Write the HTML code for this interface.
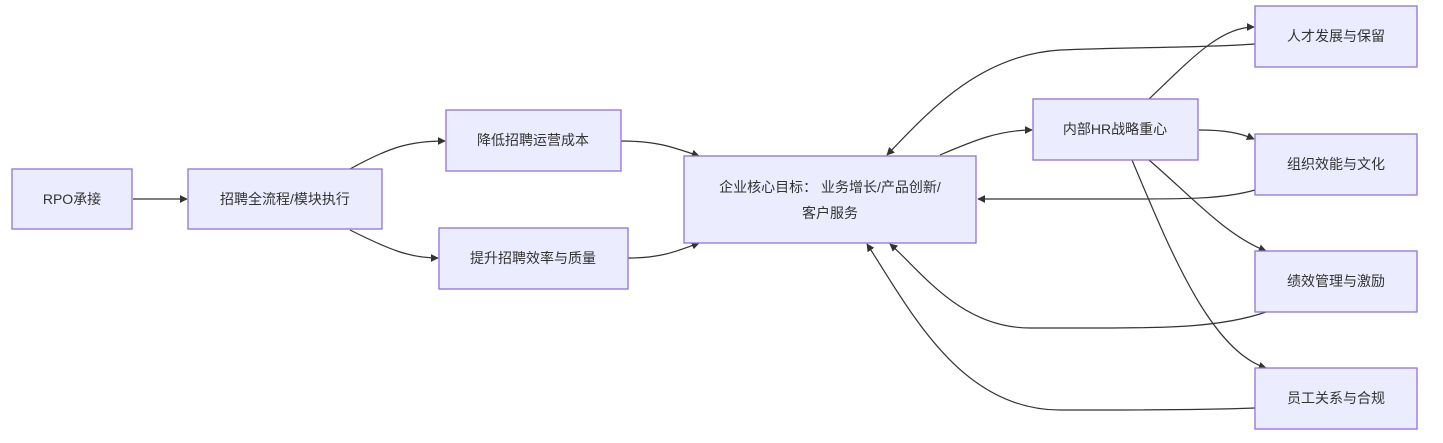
<!DOCTYPE html>
<html><head><meta charset="utf-8"><style>
html,body{margin:0;padding:0;background:#fff;}
svg{display:block;}
text{font-family:"Liberation Sans","Noto Sans CJK SC",sans-serif;font-size:14px;fill:#333;text-anchor:middle;dominant-baseline:central;}
rect{fill:#ECECFF;stroke:#9370DB;stroke-width:1.3;}
path.e{fill:none;stroke:#333;stroke-width:1.2;}
</style></head><body>
<svg width="1443" height="443" viewBox="0 0 1443 443" xmlns="http://www.w3.org/2000/svg">
<defs><marker id="a" viewBox="0 0 10 10" refX="9" refY="5" markerWidth="8" markerHeight="8" markerUnits="userSpaceOnUse" orient="auto"><path d="M0,0L10,5L0,10z" fill="#333"/></marker></defs>
<g>
<path class="e" marker-end="url(#a)" d="M133,199L187,199"/>
<path class="e" marker-end="url(#a)" d="M350,169C390,147 410,141 445,141"/>
<path class="e" marker-end="url(#a)" d="M350,230C390,250 410,258 438,258"/>
<path class="e" marker-end="url(#a)" d="M621,141C655,141 670,146 699,156"/>
<path class="e" marker-end="url(#a)" d="M628,258C660,258 675,252 699,243"/>
<path class="e" marker-end="url(#a)" d="M940,155C975,140 1000,130 1032,130"/>
<path class="e" marker-end="url(#a)" d="M1149,99C1190,60 1220,27 1254,27"/>
<path class="e" marker-end="url(#a)" d="M1199,130C1225,130 1240,133 1254,139"/>
<path class="e" marker-end="url(#a)" d="M1149,160C1190,195 1225,235 1266,251"/>
<path class="e" marker-end="url(#a)" d="M1132,160C1170,250 1210,350 1266,368"/>
<path class="e" marker-end="url(#a)" d="M1255,44C1200,48 1130,47 1060,50C980,55 930,110 887,155"/>
<path class="e" marker-end="url(#a)" d="M1255,190C1220,200 1180,199 1100,199L978,199"/>
<path class="e" marker-end="url(#a)" d="M1266,312C1220,328 1160,328 1100,328L1030,328C960,328 920,270 890,244"/>
<path class="e" marker-end="url(#a)" d="M1255,408C1200,410 1150,410 1100,410L1060,410C960,410 910,310 867,244"/>
</g>
<rect x="12" y="169" width="120" height="60"/><text x="72" y="199">RPO承接</text>
<rect x="188" y="169" width="194" height="60"/><text x="285" y="199">招聘全流程/模块执行</text>
<rect x="446" y="110" width="175" height="61"/><text x="533" y="140">降低招聘运营成本</text>
<rect x="439" y="228" width="189" height="61"/><text x="533" y="258">提升招聘效率与质量</text>
<rect x="684" y="156" width="292" height="87"/><text x="830" y="187">企业核心目标： 业务增长/产品创新/</text><text x="830" y="213">客户服务</text>
<rect x="1033" y="99" width="165" height="61"/><text x="1115" y="129">内部HR战略重心</text>
<rect x="1255" y="6" width="162" height="61"/><text x="1336" y="36">人才发展与保留</text>
<rect x="1255" y="134" width="162" height="61"/><text x="1336" y="164">组织效能与文化</text>
<rect x="1255" y="251" width="162" height="61"/><text x="1336" y="281">绩效管理与激励</text>
<rect x="1255" y="368" width="162" height="61"/><text x="1336" y="398">员工关系与合规</text>
</svg>
</body></html>
